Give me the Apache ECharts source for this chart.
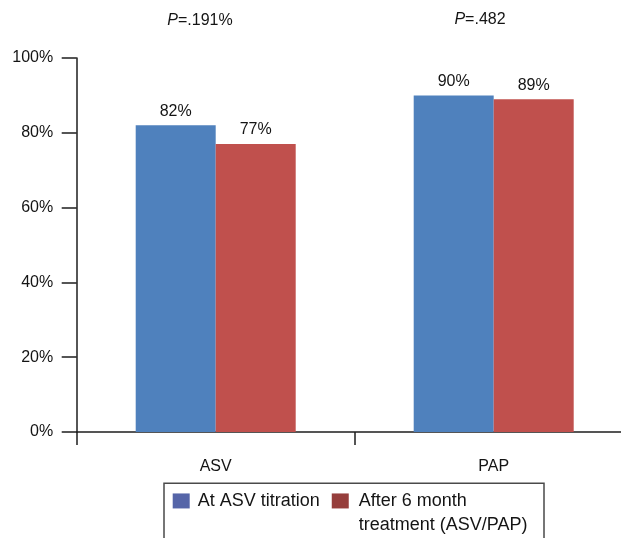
<!DOCTYPE html>
<html>
<head>
<meta charset="utf-8">
<script src="https://cdn.jsdelivr.net/npm/echarts@6/dist/echarts.min.js"></script>
<style>
  html, body { margin: 0; padding: 0; background: #fff; }
  #chart { width: 621px; height: 538px; }
</style>
</head>
<body>
<div id="chart"></div>
<script>
const categories = ['ASV', 'PAP'];
const seriesNames = ['At ASV titration', 'After 6 month treatment (ASV/PAP)'];
const atTitration = [82, 90];
const after6Month = [77, 89];
const pValues = ['=.191%', '=.482'];
const yTicks = [0, 20, 40, 60, 80, 100];

const FONT = '"Liberation Sans", Arial, Helvetica, sans-serif';
const TXT = '#141414';
const AX = '#1e1e1e';

const chart = echarts.init(document.getElementById('chart'), null, { renderer: 'canvas' });

const option = {
  animation: false,
  backgroundColor: '#ffffff',
  textStyle: { fontFamily: FONT, color: TXT },
  grid: { left: 76.7, top: 58, width: 556, height: 374, containLabel: false, outerBoundsMode: 'none' },
  xAxis: {
    type: 'category',
    data: categories,
    boundaryGap: true,
    axisLine: { show: true, lineStyle: { color: AX, width: 1.5 } },
    axisTick: { show: true, length: 13, inside: false, alignWithLabel: false, lineStyle: { color: AX, width: 1.5 } },
    axisLabel: { fontSize: 16, color: TXT, fontFamily: FONT, margin: 27 },
    splitLine: { show: false }
  },
  yAxis: {
    type: 'value',
    min: yTicks[0],
    max: yTicks[yTicks.length - 1],
    interval: yTicks[1] - yTicks[0],
    axisLine: { show: true, lineStyle: { color: AX, width: 1.5 } },
    axisTick: { show: true, length: 15, inside: false, lineStyle: { color: AX, width: 1.5 } },
    axisLabel: { fontSize: 16, color: TXT, fontFamily: FONT, margin: 23.5, formatter: '{value}%' },
    splitLine: { show: false }
  },
  legend: {
    orient: 'horizontal',
    left: 172.7,
    top: 464.2,
    padding: 0,
    itemWidth: 17,
    itemHeight: 15,
    itemGap: 12,
    icon: 'rect',
    textStyle: { fontSize: 18, color: TXT, fontFamily: FONT, lineHeight: 24.5 },
    formatter: function (name) {
      return name === seriesNames[1] ? ' \nAfter 6 month\ntreatment (ASV/PAP)' : name;
    },
    data: [
      { name: seriesNames[0], itemStyle: { color: '#5565A8' },
        textStyle: { fontSize: 18, lineHeight: 24.5, padding: [0, 0, 0, 3] } },
      { name: seriesNames[1], itemStyle: { color: '#963E3C' },
        textStyle: { fontSize: 18, lineHeight: 24.5, padding: [0, 0, 0, 5] } }
    ]
  },
  series: [
    {
      name: seriesNames[0],
      type: 'bar',
      data: atTitration,
      barWidth: 80,
      barGap: '0%',
      itemStyle: { color: '#4F81BD' },
      label: { show: true, position: 'top', distance: 6, fontSize: 16, color: TXT, fontFamily: FONT, formatter: '{c}%' }
    },
    {
      name: seriesNames[1],
      type: 'bar',
      data: after6Month,
      barWidth: 80,
      barGap: '0%',
      itemStyle: { color: '#C0504D' },
      label: { show: true, position: 'top', distance: 6, fontSize: 16, color: TXT, fontFamily: FONT, formatter: '{c}%' }
    }
  ],
  graphic: [
    {
      type: 'rect', x: 164, y: 483.3,
      shape: { width: 380, height: 80 },
      style: { fill: 'none', stroke: '#4a4a4a', lineWidth: 1.5 },
      silent: true
    },
    {
      type: 'text', x: 200, y: 21,
      style: {
        text: '{i|P}' + pValues[0], align: 'center', verticalAlign: 'middle',
        fontSize: 16, fill: TXT, font: '16px ' + FONT,
        rich: { i: { fontStyle: 'italic', fontSize: 16, fontFamily: FONT, fill: TXT } }
      }
    },
    {
      type: 'text', x: 480, y: 20,
      style: {
        text: '{i|P}' + pValues[1], align: 'center', verticalAlign: 'middle',
        fontSize: 16, fill: TXT, font: '16px ' + FONT,
        rich: { i: { fontStyle: 'italic', fontSize: 16, fontFamily: FONT, fill: TXT } }
      }
    }
  ]
};

chart.setOption(option);
</script>
</body>
</html>
